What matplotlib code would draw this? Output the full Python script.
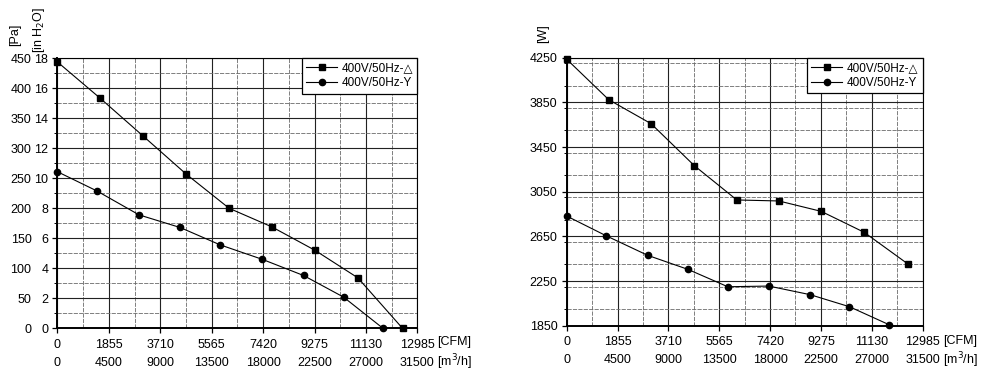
import numpy as np
import matplotlib
matplotlib.use('Agg')
import matplotlib.pyplot as plt
from matplotlib.ticker import MultipleLocator

plt.rcParams['font.family'] = ['Liberation Sans', 'DejaVu Sans']
plt.rcParams['font.size'] = 9

# 静压曲线 (风量 m3/h, 静压 Pa)
flow_d = [0, 3710, 7470, 11270, 15030, 18770, 22540, 26300, 30200]
pa_d = [444, 384, 321, 257, 200, 169, 130, 84, 0]
flow_y = [0, 3450, 7150, 10740, 14250, 17920, 21540, 25040, 28490]
pa_y = [261, 229, 189, 168, 139, 115, 88, 52, 0]

# 功率曲线 (风量 m3/h, 功率 W)
flow_dw = [0, 3720, 7470, 11300, 15060, 18780, 22530, 26340, 30200]
w_d = [4236, 3874, 3659, 3283, 2976, 2967, 2874, 2686, 2403]
flow_yw = [0, 3480, 7175, 10720, 14260, 17890, 21550, 25030, 28540]
w_y = [2832, 2656, 2480, 2355, 2199, 2205, 2128, 2020, 1859]

m3h_ticks = [0, 4500, 9000, 13500, 18000, 22500, 27000, 31500]
cfm_labels = ['0', '1855', '3710', '5565', '7420', '9275', '11130', '12985']
pa_ticks = [0, 50, 100, 150, 200, 250, 300, 350, 400, 450]
inh2o_labels = ['0', '2', '4', '6', '8', '10', '12', '14', '16', '18']
w_ticks = [1850, 2250, 2650, 3050, 3450, 3850, 4250]
legend_names = ['400V/50Hz-\u25b3', '400V/50Hz-Y']

fig = plt.figure(figsize=(9.89, 3.79), dpi=100)
ax1 = fig.add_axes([0.058, 0.1338, 0.364, 0.7124])
ax2 = fig.add_axes([0.573, 0.1406, 0.3598, 0.7072])


def style_axes(ax, ymin, ymax, ystep):
    ax.set_xlim(0, 31500)
    ax.set_ylim(ymin, ymax)
    ax.xaxis.set_minor_locator(MultipleLocator(2250))
    ax.yaxis.set_minor_locator(MultipleLocator(ystep / 2))
    ax.set_xticks(m3h_ticks)
    ax.set_xticklabels([c + '\n' + str(m) for c, m in zip(cfm_labels, m3h_ticks)],
                       linespacing=1.65)
    ax.grid(which='major', color='#222222', lw=0.8)
    ax.grid(which='minor', color='#6a6a6a', lw=0.6, ls=(0, (5, 1.5)))
    ax.set_axisbelow(True)
    ax.tick_params(which='major', direction='out', length=3.5, width=0.9,
                   colors='black', pad=3)
    ax.tick_params(axis='x', which='major', pad=4)
    ax.tick_params(which='minor', direction='out', length=2, width=0.7)
    ax.tick_params(axis='x', which='minor', length=0)
    for s in ['top', 'right']:
        ax.spines[s].set_linewidth(0.8)
    for s in ['left', 'bottom']:
        ax.spines[s].set_linewidth(1.4)


def add_lines(ax, xd, yd, xy, yy):
    ax.plot(xd, yd, color='black', lw=0.8, marker='s', ms=4, clip_on=False,
            label=legend_names[0])
    ax.plot(xy, yy, color='black', lw=0.8, marker='o', ms=4.5, clip_on=False,
            label=legend_names[1])
    leg = ax.legend(loc='upper right', borderaxespad=0, fancybox=False,
                    edgecolor='black', framealpha=1, fontsize=8.5,
                    handlelength=2.6, borderpad=0.35, labelspacing=0.25,
                    handletextpad=0.4)
    leg.get_frame().set_linewidth(0.9)


# 左图: 静压
style_axes(ax1, 0, 450, 50)
ax1.set_yticks(pa_ticks)
ax1.set_yticklabels(inh2o_labels)
add_lines(ax1, flow_d, pa_d, flow_y, pa_y)
sec = ax1.secondary_yaxis(-0.072)
sec.set_yticks(pa_ticks)
sec.tick_params(length=0, pad=0)
sec.spines['left'].set_visible(False)
fig.text(0.0157, 0.908, '[Pa]', rotation=90, ha='center', va='center')
fig.text(0.0394, 0.921, '[in H$_2$O]', rotation=90, ha='center', va='center')
fig.text(0.442, 0.0976, '[CFM]', ha='left', va='center')
fig.text(0.442, 0.0449, '[m$^3$/h]', ha='left', va='center')

# 右图: 功率
style_axes(ax2, 1850, 4250, 400)
ax2.set_yticks(w_ticks)
add_lines(ax2, flow_dw, w_d, flow_yw, w_y)
fig.text(0.5496, 0.910, '[W]', rotation=90, ha='center', va='center')
fig.text(0.9538, 0.0998, '[CFM]', ha='left', va='center')
fig.text(0.9538, 0.0499, '[m$^3$/h]', ha='left', va='center')

fig.savefig('out.png', dpi=100)
